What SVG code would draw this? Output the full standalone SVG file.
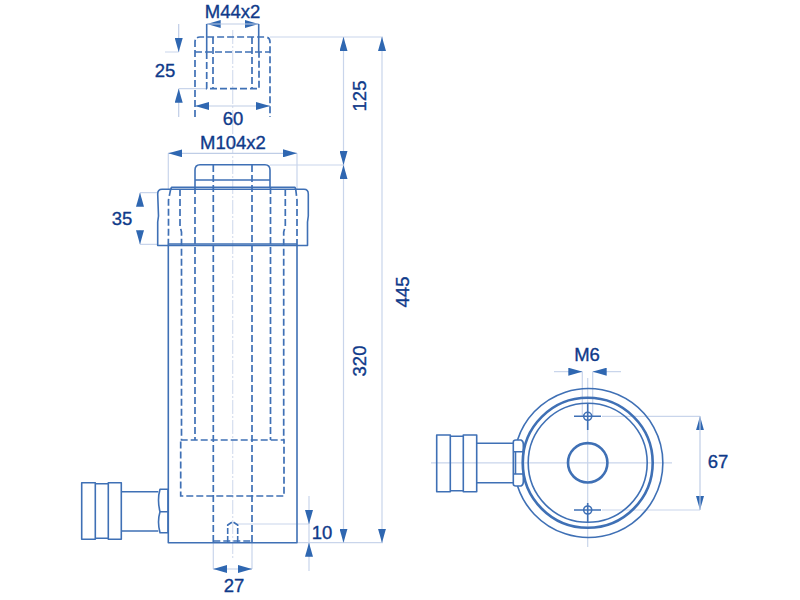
<svg xmlns="http://www.w3.org/2000/svg" width="800" height="600" viewBox="0 0 800 600">
<defs>
<marker id="a" viewBox="0 0 14 8" refX="14" refY="4" markerWidth="14" markerHeight="8" markerUnits="userSpaceOnUse" orient="auto"><path d="M0 0L14 4L0 8Z" fill="#2f67b1"/></marker>
</defs>
<style>
.o{fill:none;stroke:#3f70b5;stroke-width:1.6;stroke-linejoin:round}
.d{fill:none;stroke:#3f70b5;stroke-width:1.7;stroke-dasharray:7 3}
.t{fill:none;stroke:#c9d5eb;stroke-width:1.2}
.c{fill:none;stroke:#d5deef;stroke-width:1.2;stroke-dasharray:14 2 2 2}
.s{fill:none;stroke:#3f70b5;stroke-width:2.6}
.p{fill:none;stroke:#bfcde6;stroke-width:1.2}
text{font-family:"Liberation Sans",Arial,sans-serif;font-size:18.500px;fill:#0f3a8a;stroke:#0f3a8a;stroke-width:.35;text-anchor:middle}
</style>
<g id="dimension-lines">
<path class="c" d="M232.700 30V120M232.700 120V180M232.700 180V560"/>
<path class="t" d="M270 37H383M270 165H344M297.500 542.700H383M168.300 153.300V190M297 153.300V190M213.300 543V569M252 543V569M140 192.700H157.500M140 244.300H157.500M165 52H178.700M178.700 88.700H207M236 524H309M343.500 37V543M382 37V543M309 496V571"/>
<path class="t" d="M431 462.800H672M587.700 378V547M602 416.300H700M602 510H700M554 371.700H582.300M592.700 371.700H621M582.300 371.700V416M592.700 371.700V416"/>
</g>
<g id="connectors">
<path class="p" d="M221 24H206.700" marker-end="url(#a)"/>
<path class="p" d="M245 24H258.700" marker-end="url(#a)"/>
<path class="p" d="M206.700 24H258.700"/>
<path class="p" d="M195 106H270"/>
<path class="p" d="M209 106H195" marker-end="url(#a)"/>
<path class="p" d="M256 106H270" marker-end="url(#a)"/>
<path class="p" d="M168.300 153.300H297"/>
<path class="p" d="M182 153.300H168.300" marker-end="url(#a)"/>
<path class="p" d="M283 153.300H297" marker-end="url(#a)"/>
<path class="p" d="M178.700 24V52" marker-end="url(#a)"/>
<path class="p" d="M178.700 117V88.700" marker-end="url(#a)"/>
<path class="p" d="M343.500 51V37" marker-end="url(#a)"/>
<path class="p" d="M343.500 151V165" marker-end="url(#a)"/>
<path class="p" d="M343.500 179V165" marker-end="url(#a)"/>
<path class="p" d="M343.500 529V542.700" marker-end="url(#a)"/>
<path class="p" d="M382 51V37" marker-end="url(#a)"/>
<path class="p" d="M382 529V542.700" marker-end="url(#a)"/>
<path class="p" d="M140 206V192.700" marker-end="url(#a)"/>
<path class="p" d="M140 230V244.300" marker-end="url(#a)"/>
<path class="p" d="M213.300 569H252"/>
<path class="p" d="M227 569H213.300" marker-end="url(#a)"/>
<path class="p" d="M238 569H252" marker-end="url(#a)"/>
<path class="p" d="M309 510V524" marker-end="url(#a)"/>
<path class="p" d="M309 557V542.700" marker-end="url(#a)"/>
<path class="p" d="M568 371.700H582.300" marker-end="url(#a)"/>
<path class="p" d="M606.500 371.700H592.700" marker-end="url(#a)"/>
<path class="p" d="M700 430V416.300" marker-end="url(#a)"/>
<path class="p" d="M700 496V510" marker-end="url(#a)"/>
<path class="p" d="M700 416.300V510"/>
</g>
<g id="top-piece">
<path class="o" d="M206.700 24V52M258.700 24V52"/>
<path class="d" d="M195 117V42Q195 37 200 37H265Q270 37 270 42V117M195 52H270M206.700 52V88.700H259V52M213 37V88.700M252 37V88.700"/>
</g>
<g id="cylinder">
<path class="o" d="M168.300 245.500V542.700H297V245.500"/>
<path class="o" d="M195 187V170Q195 164.700 200 164.700H265Q270 164.700 270 170V187M195 180H270"/>
<path class="o" d="M170.700 189L171.500 187.300H295L295.700 189M157.700 194Q157.700 189.300 162 189.300H304Q308.300 189.300 308.300 194V216L307.500 222V245.500H157.700V222L158.500 216Z"/>
<path class="o" d="M168.300 244H297"/>
<path class="d" d="M170.700 189L168.500 200V232L168.300 245M295.700 189L297 200V232L297 245M180 189V226L181.500 232V440M285.300 189V226L283.700 232V440M195 187V440M270.500 187V440M213.300 165V542M252 165V542M180.700 440H284V496H180.700ZM213.300 541H252"/>
<path class="o" d="M227.700 542V525L232.700 521.700L237.700 525V542" stroke-dasharray="6 2"/>
</g>
<g id="side-port">
<path class="o" d="M81.700 482.700H95.300V539.300H81.700ZM95.300 483.700H108.300V538.300H95.300ZM108.300 482.700H121.300V539.300H108.300ZM121.300 491.700H158.300M121.300 531H158.300"/>
<path class="o" d="M160 489.300H168V532.700H160Q157 522 160 511.700Q157 500 160 489.300ZM160 511.700H168"/>
</g>
<g id="end-view">
<path class="o" d="M517.500 440A74.500 74.500 0 1 1 517.500 486" stroke-width="1.400"/>
<circle class="s" cx="587.700" cy="462.800" r="65"/>
<circle class="o" cx="587.700" cy="462.800" r="59.500"/>
<circle class="s" cx="587.700" cy="462.800" r="19.700"/>
<circle class="o" cx="587.700" cy="416.300" r="4"/>
<circle class="o" cx="587.700" cy="510" r="4"/>
<path class="o" d="M574 416.300H601M574 510H601M587.700 403V430M587.700 503V523" stroke-width="1.100"/>
<path class="o" d="M436.700 435H450.300V491.700H436.700ZM450.300 436.300H463.300V490.700H450.300ZM463.300 435H476.700V491.700H463.300ZM476.700 443.300H514M476.700 482.700H514"/>
<path class="o" d="M513.300 442Q513.300 440 516 440H521Q523.300 441 523.300 444V482Q523.300 485 521 486H516Q513.300 486 513.300 484ZM513.300 451.700H523.300M513.300 474H523.300M515.500 451.700V474"/>
</g>
<g id="labels">
<text x="232.500" y="18">M44x2</text>
<text x="165" y="77">25</text>
<text x="233" y="125">60</text>
<text x="233" y="149">M104x2</text>
<text x="122" y="225">35</text>
<text x="322" y="539">10</text>
<text x="234" y="592">27</text>
<text x="587" y="361">M6</text>
<text x="718" y="468">67</text>
<text transform="translate(366 96) rotate(-90)">125</text>
<text transform="translate(366 361) rotate(-90)">320</text>
<text transform="translate(409 292) rotate(-90)">445</text>
</g>
</svg>
